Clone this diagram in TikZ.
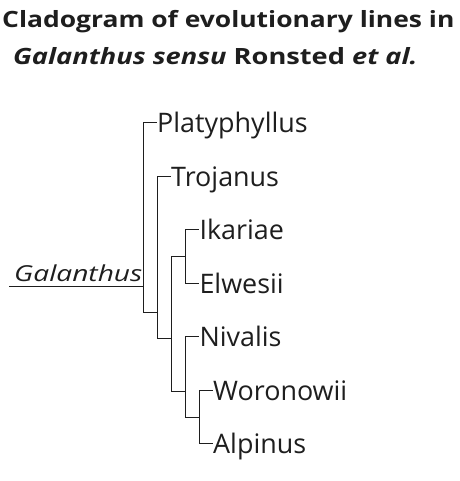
\documentclass[tikz,border=0pt]{standalone}
\usepackage{fontspec}
\setmainfont{Open Sans}
\newfontfamily\headfont[FakeStretch=1.18]{Open Sans}
\newfontfamily\subheadfont[FakeStretch=1.215]{Open Sans}
\newfontfamily\genusfont[FakeStretch=1.28]{Open Sans}
\usepackage{xcolor}
\usepackage{tikz}
\usetikzlibrary{positioning, calc}
\definecolor{inkgray}{RGB}{30,30,30}
\tikzset{
  titletext/.style={anchor=base west, inner sep=0pt, font=\headfont\fontsize{22.4}{26}\selectfont\bfseries, text=inkgray},
  subtitletext/.style={anchor=base west, inner sep=0pt, font=\subheadfont\fontsize{22.4}{26}\selectfont\bfseries, text=inkgray},
  leaf/.style={anchor=west, inner sep=0pt, text height=20.5pt, text depth=0pt, font=\fontsize{26.9}{30}\selectfont, text=inkgray},
  rootname/.style={anchor=base west, inner sep=0pt, font=\genusfont\fontsize{22}{26}\selectfont\itshape, text=inkgray},
  branch/.style={draw=inkgray, line width=1pt},
}
\begin{document}
\begin{tikzpicture}[x=1pt, y=-1pt]
\useasboundingbox (0,0) rectangle (459,481);
\node (title1) [titletext] at (2,27.3) {Cladogram of evolutionary lines in};
\node (title2) [subtitletext] at (13,65) {\itshape Galanthus sensu\/ \upshape Ronsted \itshape et al.};
\coordinate (rootstart) at (9,286);
\node (gal) [rootname] at (14,281.7) {Galanthus};
\coordinate (r) at (143.3,286);
\coordinate (t) at (157,312);
\coordinate (u) at (171,338.3);
\coordinate (v) at (185,256.7);
\coordinate (w) at (185,391);
\coordinate (x) at (199.3,417);
\node (pla) [leaf] at (157,122.7) {Platyphyllus};
\node (tro) [leaf] at (171,176.3) {Trojanus};
\node (ika) [leaf] at (199.3,229.5) {Ikariae};
\node (elw) [leaf] at (199.3,283) {Elwesii};
\node (niv) [leaf] at (199.3,336.7) {Nivalis};
\node (wor) [leaf] at (213,390) {Woronowii};
\node (alp) [leaf] at (213,443.3) {Alpinus};
\draw[branch] (rootstart) -- (r);
\draw[branch] (r) |- (pla.west);
\draw[branch] (r) |- (t);
\draw[branch] (t) |- (tro.west);
\draw[branch] (t) |- (u);
\draw[branch] (u) |- (v);
\draw[branch] (u) |- (w);
\draw[branch] (v) |- (ika.west);
\draw[branch] (v) |- (elw.west);
\draw[branch] (w) |- (niv.west);
\draw[branch] (w) |- (x);
\draw[branch] (x) |- (wor.west);
\draw[branch] (x) |- (alp.west);
\end{tikzpicture}
\end{document}
